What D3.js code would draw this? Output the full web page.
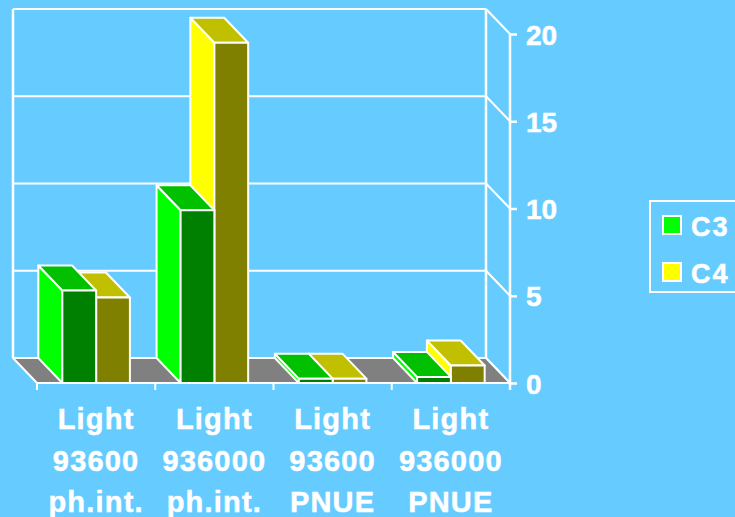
<!DOCTYPE html>
<html>
<head>
<meta charset="utf-8">
<script src="https://cdn.jsdelivr.net/npm/d3@7"></script>
<style>
  html, body { margin: 0; padding: 0; background: #66CCFF; }
  svg { display: block; }
  text { font-family: "Liberation Sans", Arial, sans-serif; font-weight: bold; fill: #fff; stroke: #fff; stroke-width: 0.5px; }
</style>
</head>
<body>
<svg id="chart" width="735" height="517"></svg>
<script>
// ---- data ----
const categories = [
  ["Light", "93600", "ph.int."],
  ["Light", "936000", "ph.int."],
  ["Light", "93600", "PNUE"],
  ["Light", "936000", "PNUE"]
];
const seriesNames = ["C3", "C4"];
const c3Values = [5.3, 9.9, 0.25, 0.35];
const c4Values = [4.9, 19.5, 0.25, 1.0];
const valueTicks = [0, 5, 10, 15, 20];

// ---- styles ----
const colors = {
  C3: { front: "#008000", side: "#00FF00", top: "#00C000" },
  C4: { front: "#808000", side: "#FFFF00", top: "#C0C000" }
};
const bg = "#66CCFF";
const floorColor = "#808080";
const DX = 24, DY = 25; // depth offset (back is up-left)

const svg = d3.select("#chart");
svg.append("rect").attr("width", 735).attr("height", 517).attr("fill", bg);

const catIdx = categories.map((d, i) => i);
const x0 = d3.scaleBand().domain(catIdx).range([37, 510]).paddingInner(0).paddingOuter(0);
const x1 = d3.scaleBand().domain(seriesNames).range([0, x0.bandwidth()]).paddingInner(0).paddingOuter(0.75);
const y = d3.scaleLinear().domain([0, 20]).range([383, 34]);

const xL = x0.range()[0], xR = x0.range()[1];
const y0 = y(0);

const white = "#fff";
const g = svg.append("g");

// back wall outline + gridlines
const wall = g.append("g");
valueTicks.forEach(v => {
  const yy = y(v) - DY;
  if (v > 0) {
    wall.append("line").attr("x1", xL - DX).attr("x2", xR - DX).attr("y1", yy).attr("y2", yy)
      .attr("stroke", white).attr("stroke-width", 2);
  }
  wall.append("line").attr("x1", xR - DX).attr("y1", yy).attr("x2", xR).attr("y2", y(v))
    .attr("stroke", white).attr("stroke-width", 2);
});
wall.append("line").attr("x1", xL - DX).attr("x2", xL - DX).attr("y1", y(20) - DY).attr("y2", y0 - DY)
  .attr("stroke", white).attr("stroke-width", 2.5);
wall.append("line").attr("x1", xR - DX).attr("x2", xR - DX).attr("y1", y(20) - DY).attr("y2", y0 - DY)
  .attr("stroke", white).attr("stroke-width", 2.5);

// floor
g.append("polygon")
  .attr("points", [[xL - DX, y0 - DY], [xR - DX, y0 - DY], [xR, y0], [xL, y0]].map(p => p.join(",")).join(" "))
  .attr("fill", floorColor).attr("stroke", white).attr("stroke-width", 2).attr("stroke-linejoin", "round");

// value axis (front right)
const yAxis = d3.axisRight(y).tickValues(valueTicks).tickSize(7).tickPadding(9).tickFormat(d3.format("d"));
const ya = svg.append("g").attr("transform", `translate(${xR},0)`).call(yAxis);
ya.select(".domain").attr("stroke", white).attr("stroke-width", 2.5).attr("d", `M0,${y(20)}V${y0 + 7}`);
ya.selectAll(".tick line").attr("stroke", white).attr("stroke-width", 2.5);
ya.selectAll(".tick text").attr("fill", white).attr("stroke", white).attr("stroke-width", 0.5)
  .style("font-size", "28px").style("font-weight", "bold")
  .style("font-family", "'Liberation Sans', Arial, sans-serif").attr("dy", "0.36em");

// category axis ticks (front edge of floor)
const tickXs = catIdx.map(i => x0(i)).concat([xR]);
tickXs.forEach(tx => {
  svg.append("line").attr("x1", tx).attr("x2", tx).attr("y1", y0).attr("y2", y0 + 7)
    .attr("stroke", white).attr("stroke-width", 2);
});
svg.append("line").attr("x1", xL).attr("x2", xR).attr("y1", y0).attr("y2", y0)
  .attr("stroke", white).attr("stroke-width", 2);

// bars: draw right-to-left so left bars occlude right bars' side faces
const bars = [];
catIdx.forEach(i => {
  bars.push({ cat: i, s: "C3", v: c3Values[i] });
  bars.push({ cat: i, s: "C4", v: c4Values[i] });
});
bars.sort((a, b) => (x0(b.cat) + x1(b.s)) - (x0(a.cat) + x1(a.s)));

const barG = svg.append("g");
const pts = arr => arr.map(p => p.join(",")).join(" ");
bars.forEach(b => {
  const x = x0(b.cat) + x1(b.s);
  const w = x1.bandwidth();
  const yt = y(b.v);
  const c = colors[b.s];
  const bg2 = barG.append("g").attr("stroke", white).attr("stroke-width", 2).attr("stroke-linejoin", "round");
  bg2.append("polygon").attr("points", pts([[x, yt], [x - DX, yt - DY], [x - DX, y0 - DY], [x, y0]])).attr("fill", c.side);
  bg2.append("polygon").attr("points", pts([[x, yt], [x + w, yt], [x + w - DX, yt - DY], [x - DX, yt - DY]])).attr("fill", c.top);
  bg2.append("rect").attr("x", x).attr("y", yt).attr("width", w).attr("height", y0 - yt).attr("fill", c.front);
});

// category labels
const lineBase = [429, 471, 512];
categories.forEach((lines, i) => {
  const cx = x0(i) + x0.bandwidth() / 2;
  lines.forEach((t, k) => {
    svg.append("text").attr("x", cx).attr("y", lineBase[k]).attr("text-anchor", "middle")
      .style("font-size", "29px").style("letter-spacing", "1.2px").text(t);
  });
});

// legend
const lg = svg.append("g");
lg.append("rect").attr("x", 650).attr("y", 201).attr("width", 120).attr("height", 91)
  .attr("fill", "none").attr("stroke", white).attr("stroke-width", 2);
const legendColor = { C3: "#00FF00", C4: "#FFFF00" };
seriesNames.forEach((s, k) => {
  const yy = 216 + k * 47;
  lg.append("rect").attr("x", 663).attr("y", yy).attr("width", 18).attr("height", 18)
    .attr("fill", legendColor[s]).attr("stroke", white).attr("stroke-width", 2);
  lg.append("text").attr("x", 691).attr("y", yy + 20).style("font-size", "27px").style("letter-spacing", "2px").text(s);
});
</script>
</body>
</html>
